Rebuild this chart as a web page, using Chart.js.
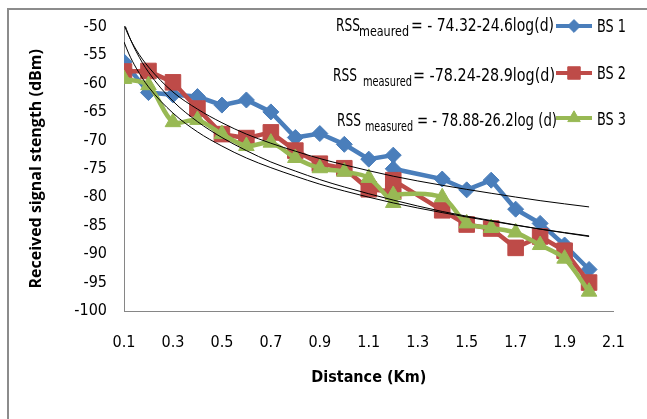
<!DOCTYPE html>
<html>
<head>
<meta charset="utf-8">
<script src="https://cdn.jsdelivr.net/npm/chart.js@4.4.0/dist/chart.umd.min.js"></script>
<style>
  html, body { margin: 0; padding: 0; background: #fff; }
  #wrap { position: relative; width: 647px; height: 419px; overflow: hidden; }
  #chart { position: absolute; left: 0; top: 0; }
  #frame { position: absolute; left: 7px; top: 8px; width: 700px; height: 500px;
           border-left: 2px solid #8c8c8c; border-top: 2px solid #8c8c8c; pointer-events: none; }
</style>
</head>
<body>
<div id="wrap">
  <canvas id="chart" width="647" height="419"></canvas>
  <div id="frame"></div>
</div>
<script>
// distance in km (1.2 appears twice in the source chart)
var distance = [0.1, 0.2, 0.3, 0.4, 0.5, 0.6, 0.7, 0.8, 0.9, 1.0, 1.1, 1.2, 1.2, 1.4, 1.5, 1.6, 1.7, 1.8, 1.9, 2.0];

var bs1 = [-56.2, -61.6, -62.0, -62.3, -63.8, -62.9, -65.0, -69.5, -68.8, -70.7, -73.3, -72.6, -75.0, -76.8, -78.7, -77.0, -82.1, -84.6, -88.4, -92.7];
var bs2 = [-57.9, -57.8, -59.8, -64.4, -68.9, -69.6, -68.6, -71.8, -74.1, -74.9, -78.6, -79.0, -77.0, -82.3, -84.8, -85.5, -88.9, -86.9, -89.4, -95.0];
var bs3 = [-59.2, -60.3, -66.8, -66.4, -68.9, -71.0, -70.4, -73.1, -74.9, -75.5, -76.6, -81.0, -79.6, -80.0, -84.6, -85.4, -86.2, -88.4, -90.8, -96.6];

// log trendlines
var trendX = [0.1, 0.12, 0.15, 0.2, 0.3, 0.4, 0.5, 0.6, 0.7, 0.8, 0.9, 1.0, 1.2, 1.4, 1.6, 1.8, 2.0];
var fit1 = [-49.7, -51.7, -54.1, -57.1, -61.5, -64.5, -66.9, -68.9, -70.5, -71.9, -73.2, -74.3, -76.3, -77.9, -79.3, -80.6, -81.7];
var fit2 = [-49.3, -51.6, -54.4, -58.0, -63.1, -66.7, -69.5, -71.8, -73.8, -75.4, -76.9, -78.2, -80.5, -82.5, -84.1, -85.6, -86.9];
var fit3 = [-52.7, -54.8, -57.3, -60.6, -65.2, -68.5, -71.0, -73.1, -74.8, -76.3, -77.7, -78.9, -81.0, -82.7, -84.2, -85.6, -86.8];

var xTicks = [0.1, 0.3, 0.5, 0.7, 0.9, 1.1, 1.3, 1.5, 1.7, 1.9, 2.1];

var seriesNames = ['BS 1', 'BS 2', 'BS 3'];
var eqSub = ['meaured', 'measured', 'measured'];
var eqText = ['= - 74.32-24.6log(d)', '= -78.24-28.9log(d)', '= - 78.88-26.2log (d)'];

var narrow = "'Liberation Sans Narrow', 'DejaVu Sans Condensed', sans-serif";

function pts(xs, ys) {
    return xs.map(function (x, i) { return { x: x, y: ys[i] }; });
}

function series(name, values, color, style, radius, order, tension) {
    return {
        label: name,
        data: pts(distance, values),
        borderColor: color,
        backgroundColor: color,
        borderWidth: 4.5,
        pointStyle: style,
        pointRadius: radius,
        pointBackgroundColor: color,
        pointBorderColor: color,
        pointBorderWidth: 1,
        tension: tension,
        order: order
    };
}

function trend(values) {
    return {
        label: 'trend',
        data: pts(trendX, values),
        borderColor: '#000',
        borderWidth: 1,
        pointRadius: 0,
        cubicInterpolationMode: 'monotone',
        order: 0
    };
}

// equation text + legend rows in the top right
var rows = [
    { rssX: 336, base: 31, subX: 359, subBase: 36, subW: 50, textX: 411, textW: 143, lineY: 26, nameBase: 32 },
    { rssX: 333, base: 81, subX: 363, subBase: 86, subW: 49, textX: 413, textW: 142, lineY: 73, nameBase: 79 },
    { rssX: 337, base: 126, subX: 365, subBase: 131, subW: 48, textX: 417, textW: 140, lineY: 118, nameBase: 125 }
];

var eqLegend = {
    id: 'eqLegend',
    afterDraw: function (chart) {
        var ctx = chart.ctx;
        var sets = chart.data.datasets;
        ctx.save();
        ctx.textAlign = 'left';
        ctx.textBaseline = 'alphabetic';
        for (var i = 0; i < rows.length; i++) {
            var r = rows[i];
            var ds = sets[i];
            ctx.fillStyle = '#000';
            ctx.font = '17px ' + narrow;
            ctx.fillText('RSS', r.rssX, r.base, 24);
            ctx.font = '14px ' + narrow;
            ctx.fillText(eqSub[i], r.subX, r.subBase, r.subW);
            ctx.font = '17px ' + narrow;
            ctx.fillText(eqText[i], r.textX, r.base, r.textW);

            ctx.strokeStyle = ds.borderColor;
            ctx.lineWidth = 4;
            ctx.beginPath();
            ctx.moveTo(556, r.lineY);
            ctx.lineTo(592, r.lineY);
            ctx.stroke();
            ctx.fillStyle = ds.backgroundColor;
            ctx.lineWidth = 1;
            Chart.helpers.drawPoint(ctx, {
                pointStyle: ds.pointStyle,
                radius: ds.pointRadius * 0.8,
                borderWidth: 1,
                rotation: 0
            }, 574, r.lineY);

            ctx.fillStyle = '#000';
            ctx.font = '17px ' + narrow;
            ctx.fillText(seriesNames[i], 597, r.nameBase, 29);
        }
        ctx.restore();
    }
};

var chart = new Chart(
    document.getElementById('chart'),
    {
        type: 'line',
        data: {
            datasets: [
                series('BS 1', bs1, '#4A7EBB', 'rectRot', 8, 3, 0),
                series('BS 2', bs2, '#BE4B48', 'rect', 11, 2, 0),
                series('BS 3', bs3, '#98B954', 'triangle', 9, 1, 0.3),
                trend(fit1),
                trend(fit2),
                trend(fit3)
            ]
        },
        options: {
            responsive: false,
            animation: false,
            layout: {
                padding: { left: 0, right: 17, top: 20, bottom: 0 }
            },
            plugins: {
                legend: { display: false },
                tooltip: { enabled: false }
            },
            scales: {
                x: {
                    type: 'linear',
                    min: 0.1,
                    max: 2.1,
                    afterBuildTicks: function (scale) {
                        scale.ticks = xTicks.map(function (v) { return { value: v }; });
                    },
                    afterFit: function (scale) { scale.height = 108; },
                    grid: { drawOnChartArea: false, drawTicks: false },
                    border: { color: '#868686', width: 1 },
                    ticks: {
                        padding: 22,
                        color: '#000',
                        font: { family: narrow, size: 16 },
                        maxRotation: 0,
                        callback: function (v) { return v.toFixed(1); }
                    },
                    title: {
                        display: true,
                        text: 'Distance (Km)',
                        color: '#000',
                        font: { family: narrow, size: 16, weight: 'bold' },
                        padding: { top: 0, bottom: 32 }
                    }
                },
                y: {
                    min: -100,
                    max: -50,
                    afterFit: function (scale) { scale.width = 124; },
                    grid: { drawOnChartArea: false, drawTicks: false },
                    border: { color: '#868686', width: 1 },
                    ticks: {
                        stepSize: 5,
                        padding: 17,
                        color: '#000',
                        font: { family: narrow, size: 16 }
                    },
                    title: {
                        display: true,
                        text: 'Received signal stength (dBm)',
                        color: '#000',
                        font: { family: "'Open Sans', sans-serif", size: 16, weight: 'bold' },
                        padding: { top: 27, bottom: 0 }
                    }
                }
            }
        },
        plugins: [eqLegend]
    });
</script>
</body>
</html>
